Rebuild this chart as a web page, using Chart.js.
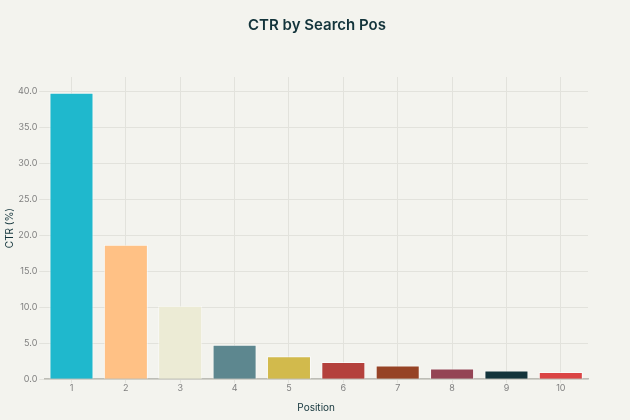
<!DOCTYPE html>
<html>
<head>
<meta charset="utf-8">
<script src="https://cdn.jsdelivr.net/npm/chart.js@4.4.1/dist/chart.umd.min.js"></script>
<style>
  html, body { margin: 0; padding: 0; background: #F3F3EE; }
  #wrap { width: 630px; height: 420px; }
</style>
</head>
<body>
<div id="wrap"><canvas id="chart"></canvas></div>
<script>
const positions = ["1", "2", "3", "4", "5", "6", "7", "8", "9", "10"]
const ctrValues = [39.8, 18.7, 10.2, 4.8, 3.2, 2.4, 1.9, 1.5, 1.2, 1.0]
const barColors = ["#1FB8CD", "#FFC185", "#ECEBD5", "#5D878F", "#D2BA4C",
    "#B4413C", "#964325", "#944454", "#13343B", "#DB4545"]

Chart.defaults.font.family = "Inter, 'Noto Sans', sans-serif"

new Chart(document.getElementById("chart"), {
    type: "bar",
    data: {
        labels: positions,
        datasets: [{
            label: "CTR (%)",
            data: ctrValues,
            backgroundColor: barColors,
            borderColor: "rgba(255,255,255,0.6)",
            borderWidth: 1,
            categoryPercentage: 0.9,
            barPercentage: 0.9
        }]
    },
    options: {
        responsive: true,
        maintainAspectRatio: false,
        animation: false,
        layout: { padding: { left: 4, right: 0, top: 0, bottom: 0 } },
        plugins: {
            legend: { display: false },
            tooltip: { enabled: false },
            title: {
                display: true,
                text: "CTR by Search Pos",
                color: "#13343B",
                font: { size: 15, weight: "600" },
                padding: { top: 16, bottom: 43 }
            }
        },
        scales: {
            x: {
                grid: { offset: false, color: "#E2E2DC", drawTicks: true, tickLength: 4 },
                border: { color: "#BDBDB6", width: 1.5 },
                ticks: { color: "#808080", font: { size: 9 }, padding: 0 },
                title: {
                    display: true,
                    text: "Position",
                    color: "#13343B",
                    font: { size: 10 },
                    padding: { top: 8, bottom: 6 }
                }
            },
            y: {
                min: 0,
                max: 42,
                afterBuildTicks: axis => {
                    axis.ticks = axis.ticks.filter(t => t.value % 5 === 0)
                },
                grid: { color: "#E2E2DC", tickLength: 5 },
                border: { display: false },
                ticks: {
                    stepSize: 5,
                    color: "#808080",
                    font: { size: 9 },
                    padding: 2,
                    callback: v => v.toFixed(1)
                },
                title: {
                    display: true,
                    text: "CTR (%)",
                    color: "#13343B",
                    font: { size: 10 },
                    padding: { top: 0, bottom: 0 }
                }
            },
            // empty right-side spacer so the title stays centred on the canvas
            spacer: {
                type: "linear",
                position: "right",
                display: true,
                grid: { display: false },
                border: { display: false },
                ticks: { display: false },
                afterFit: axis => { axis.width = 42 }
            }
        }
    }
})
</script>
</body>
</html>
